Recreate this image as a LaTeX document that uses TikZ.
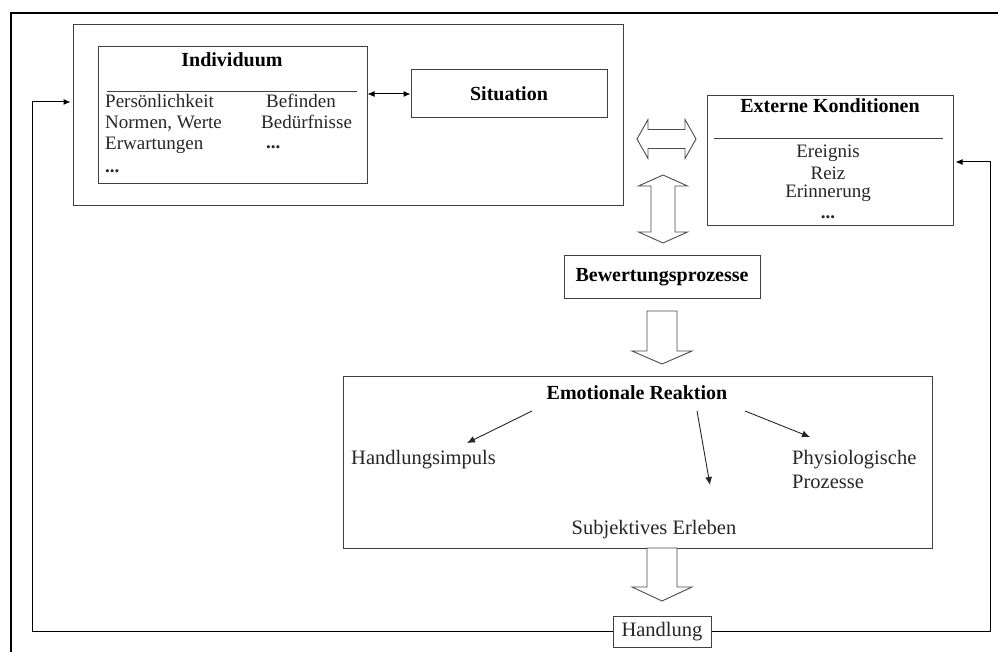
\documentclass[tikz,border=0pt]{standalone}
\usepackage{fontspec}
\setmainfont{Liberation Serif}
\usetikzlibrary{arrows.meta}
\begin{document}
\begin{tikzpicture}[x=1pt,y=-1pt,
  box/.style={draw=black!75, line width=1pt, inner sep=0pt, fill=white},
  ttl/.style={font=\fontsize{20}{24}\selectfont\bfseries, inner sep=0pt},
  txt/.style={font=\fontsize{19}{23}\selectfont, inner sep=0pt, text=black!85},
  bigtxt/.style={font=\fontsize{20.5}{24}\selectfont, inner sep=0pt, text=black!85},
  rule/.style={draw=black!75, line width=1pt},
  hollow/.style={draw=black!70, line width=0.9pt, fill=white, line join=miter},
  link/.style={draw=black, line width=1pt, {Latex[length=7pt,width=6pt]}-{Latex[length=7pt,width=6pt]}},
  ray/.style={draw=black!85, line width=0.9pt, -{Latex[length=8pt,width=7pt]}},
  fb/.style={draw=black, line width=1pt, -{Latex[length=7pt,width=6pt]}}
]
\useasboundingbox (0,0) rectangle (998,652);
\fill[white] (0,0) rectangle (998,652);

% outer frame (runs off the page at the right and bottom)
\draw[line width=1.5pt] (11,660) -- (11,13) -- (1005,13);

% Individuum block with situation
\node[box, minimum width=550, minimum height=181] (cont) at (348,115.5) {};
\node[box, minimum width=269, minimum height=137] (ind) at (232.5,115.5) {};
\node[ttl] (indt) at (232,60) {Individuum};
\draw[rule] (107,92) -- (357,92);
\node[txt, anchor=mid west] (p1) at (105,105) {Persönlichkeit};
\node[txt, anchor=mid west] (p2) at (105,126) {Normen, Werte};
\node[txt, anchor=mid west] (p3) at (105,147) {Erwartungen};
\node[txt, anchor=mid west] (p4) at (105,170) {\textbf{...}};
\node[txt, anchor=mid west] (q1) at (266,105) {Befinden};
\node[txt, anchor=mid west] (q2) at (261,126) {Bedürfnisse};
\node[txt, anchor=mid west] (q3) at (266,146) {\textbf{...}};
\node[box, minimum width=196, minimum height=48] (sit) at (509,94) {};
\node[ttl] (sitt) at (509,94) {Situation};
\draw[link] (ind.east |- sit.west) -- (sit.west);

% external conditions
\node[box, minimum width=246, minimum height=130] (ext) at (830,161) {};
\node[ttl] (extt) at (830,106) {Externe Konditionen};
\draw[rule] (714,139) -- (943,139);
\node[txt] (e1) at (828,153) {Ereignis};
\node[txt] (e2) at (828,173) {Reiz};
\node[txt] (e3) at (828,193) {Erinnerung};
\node[txt] (e4) at (828,217) {\textbf{...}};

% hollow arrows
\draw[hollow] (637,139) -- (648,119.5) -- (648,129.5) -- (685,129.5) -- (685,119.5)
  -- (696,139) -- (685,158.5) -- (685,148.5) -- (648,148.5) -- (648,158.5) -- cycle;
\draw[hollow] (663,175) -- (687.5,186) -- (675,186) -- (675,232) -- (687.5,232)
  -- (663,243) -- (638.5,232) -- (651,232) -- (651,186) -- (638.5,186) -- cycle;
\draw[hollow] (647,311) -- (677,311) -- (677,351) -- (692,351) -- (662,364)
  -- (632,351) -- (647,351) -- cycle;

% evaluation
\node[box, minimum width=196, minimum height=42] (bew) at (662,277) {};
\node[ttl] (bewt) at (662,277) {Bewertungsprozesse};

% emotional reaction
\node[box, minimum width=589, minimum height=172] (emo) at (637.5,462) {};
\node[ttl] (emot) at (637,393) {Emotionale Reaktion};
\node[bigtxt, anchor=mid west] (hi) at (351,462) {Handlungsimpuls};
\node[bigtxt] (se) at (654,530) {Subjektives Erleben};
\node[bigtxt, anchor=mid west] (ph1) at (792,462) {Physiologische};
\node[bigtxt, anchor=mid west] (ph2) at (792,486) {Prozesse};
\coordinate (a1s) at (532,411); \coordinate (a1e) at (467,443);
\coordinate (a2s) at (697,411); \coordinate (a2e) at (710,485);
\coordinate (a3s) at (745,411); \coordinate (a3e) at (810,437);
\draw[ray] (a1s) -- (a1e);
\draw[ray] (a2s) -- (a2e);
\draw[ray] (a3s) -- (a3e);

\draw[hollow] (647,548) -- (677,548) -- (677,587) -- (692,587) -- (662,601)
  -- (632,587) -- (647,587) -- cycle;

% action and feedback loops
\node[box, minimum width=98, minimum height=31] (hand) at (662,631.5) {};
\node[bigtxt] (handt) at (662,632) {Handlung};
\coordinate (fbl) at (32,102);
\coordinate (fbr) at (990,162);
\draw[fb] (hand.west) -| (fbl) -- ([xshift=-2]cont.west |- fbl);
\draw[fb] (hand.east) -| (fbr) -- ([xshift=2]ext.east |- fbr);
\end{tikzpicture}
\end{document}
